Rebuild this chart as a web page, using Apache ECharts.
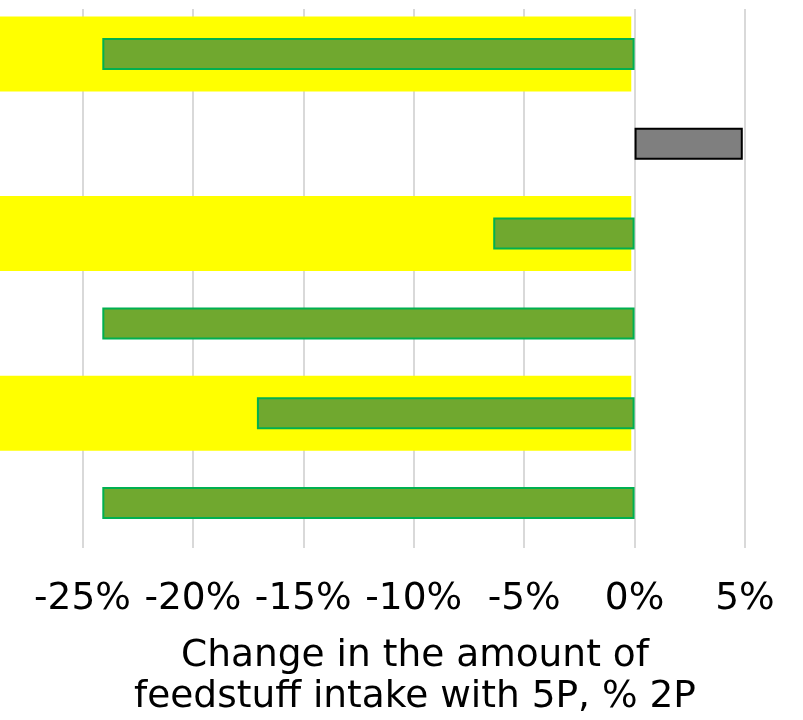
<!DOCTYPE html>
<html>
<head>
<meta charset="utf-8">
<script src="https://cdn.jsdelivr.net/npm/echarts@6/dist/echarts.min.js"></script>
<style>
  html, body { margin: 0; padding: 0; background: #fff; overflow: hidden; }
  /* The plot's left edge (-30%) sits just outside the visible page */
  #chart { position: absolute; left: -28px; top: 0; width: 831px; height: 720px; }
</style>
</head>
<body>
<div id="chart"></div>
<script>
// Feed groups, top to bottom
const categories = ['Group 1', 'Group 2', 'Group 3', 'Group 4', 'Group 5', 'Group 6'];
// Change in feedstuff intake with 5P relative to 2P, %
const changeValues = [-24.1, 4.9, -6.4, -24.1, -17.1, -24.1];
// Highlighted rows (background bands) end just left of zero
const bandEnd = [-0.15, null, -0.15, null, -0.15, null];
const bandSpan = [-29.85, null, -29.85, null, -29.85, null];
// Axis range and tick step
const axisMin = -30;
const axisMax = 5;
const axisStep = 5;

const FONT = '"DejaVu Sans", Verdana, sans-serif';

const chart = echarts.init(document.getElementById('chart'), null, { renderer: 'canvas' });

chart.setOption({
  animation: false,
  backgroundColor: '#ffffff',
  grid: { left: 0, right: 58, top: 9, bottom: 172, containLabel: false },
  title: {
    text: 'Change in the amount of\nfeedstuff intake with 5P, % 2P',
    left: 438,
    top: 631,
    textAlign: 'center',
    textStyle: { fontFamily: FONT, fontSize: 37.5, fontWeight: 'normal', color: '#000', lineHeight: 41 }
  },
  xAxis: {
    type: 'value',
    min: axisMin,
    max: axisMax,
    interval: axisStep,
    axisLine: { show: false },
    axisTick: { show: false },
    splitLine: { show: true, lineStyle: { color: '#d9d9d9', width: 2 } },
    axisLabel: {
      showMinLabel: false,
      margin: 32,
      fontFamily: FONT,
      fontSize: 37.5,
      color: '#000',
      formatter: v => v + '%'
    }
  },
  yAxis: [
    {
      type: 'category',
      data: categories,
      inverse: true,
      axisLine: { show: false },
      axisTick: { show: false },
      axisLabel: { show: false },
      splitLine: { show: false }
    },
    {
      type: 'category',
      data: categories,
      inverse: true,
      position: 'left',
      show: false
    }
  ],
  series: [
    {
      type: 'bar',
      yAxisIndex: 1,
      stack: 'band',
      barWidth: 75,
      silent: true,
      itemStyle: { color: 'rgba(0,0,0,0)' },
      data: bandEnd,
      z: 1
    },
    {
      type: 'bar',
      yAxisIndex: 1,
      stack: 'band',
      barWidth: 75,
      silent: true,
      itemStyle: { color: '#ffff00' },
      data: bandSpan,
      z: 1
    },
    {
      type: 'bar',
      yAxisIndex: 0,
      barWidth: 32,
      z: 3,
      data: changeValues.map(v => ({
        value: v,
        itemStyle: v < 0
          ? { color: '#70a82f', borderColor: '#00b050', borderWidth: 2 }
          : { color: '#7f7f7f', borderColor: '#000000', borderWidth: 2 }
      }))
    }
  ]
});
</script>
</body>
</html>
